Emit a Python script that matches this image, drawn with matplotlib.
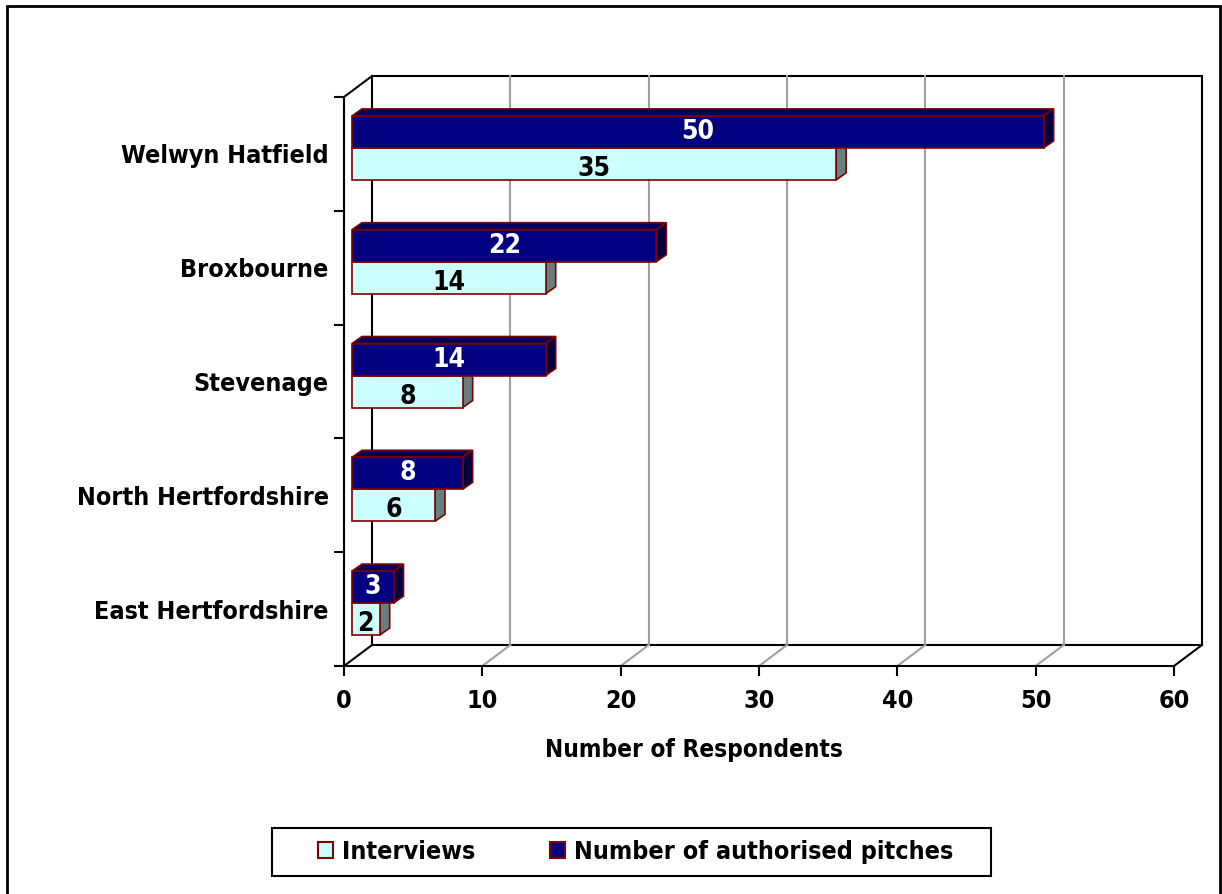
"""Respondents by district: interviews vs authorised pitches, drawn as 3D-style bars"""

import numpy as np
import matplotlib
matplotlib.use("Agg")
import matplotlib.pyplot as plt
from matplotlib.patches import Polygon, Rectangle, Patch

# data, bottom category first
districts = ["East Hertfordshire", "North Hertfordshire", "Stevenage", "Broxbourne", "Welwyn Hatfield"]
interviews = [2, 6, 8, 14, 35]
pitches = [3, 8, 14, 22, 50]
x_ticks = [0, 10, 20, 30, 40, 50, 60]

NAVY, NAVY_TOP, NAVY_SIDE = "#000080", "#00005c", "#000040"
CYAN, CYAN_TOP, CYAN_SIDE = "#ccffff", "#99bfbf", "#668080"
EDGE = "#800000"
GRID = "#a0a0a0"

plt.rcParams["font.family"] = "DejaVu Sans"
plt.rcParams["font.weight"] = "bold"
plt.rcParams["font.stretch"] = "condensed"

W, H = 1222, 894
fig = plt.figure(figsize=(W / 100, H / 100), dpi=100)
ax = fig.add_axes([344 / W, 1 - 666 / H, 830 / W, 569 / H])
ax.set_xlim(0, 60)
ax.set_ylim(-0.5, 4.5)


def depth(px, py):
  """Convert a pixel offset into data units (used for the fake perspective)"""
  x0, y0 = ax.transData.transform((0, 0))
  x1, y1 = ax.transData.transform((1, 1))
  return px / (x1 - x0), py / (y1 - y0)


wx, wy = depth(28, 21)   # back wall offset
fx, fy = depth(8, 6)     # bar front face offset
bx, by = depth(10, 7)    # bar depth
bar_h = depth(0, 32)[1]  # bar thickness

# back wall + gridlines
ax.add_patch(Rectangle((wx, -0.5 + wy), 60, 5, facecolor="white", edgecolor="black",
                       lw=1.5, clip_on=False, zorder=1))
for t in x_ticks[1:-1]:
  ax.plot([t + wx, t + wx], [-0.5 + wy, 4.5 + wy], color=GRID, lw=1.5, clip_on=False, zorder=1.5)

# floor lines
for t in x_ticks:
  col = "black" if t in (x_ticks[0], x_ticks[-1]) else GRID
  ax.plot([t, t + wx], [-0.5, -0.5 + wy], color=col, lw=1.5, clip_on=False, zorder=1.5)

# left wall top edge
ax.plot([0, wx], [4.5, 4.5 + wy], color="black", lw=1.5, clip_on=False, zorder=1.5)


def draw_bars(values, bottoms, face, top, side, z, txt_col, txt_dy):
  for v, b in zip(values, bottoms):
    y0, y1 = b + fy, b + bar_h + fy
    x1 = v + fx
    ax.add_patch(Polygon([(fx, y1), (x1, y1), (x1 + bx, y1 + by), (fx + bx, y1 + by)],
                         closed=True, fc=top, ec=EDGE, lw=1.2, clip_on=False, zorder=z))
    ax.add_patch(Polygon([(x1, y0), (x1 + bx, y0 + by), (x1 + bx, y1 + by), (x1, y1)],
                         closed=True, fc=side, ec=EDGE, lw=1.2, clip_on=False, zorder=z))
  ax.barh(np.array(bottoms) + fy, values, height=bar_h, left=fx, align="edge",
          color=face, edgecolor=EDGE, lw=1.2, clip_on=False, zorder=z + 0.1)
  for v, b in zip(values, bottoms):
    ax.text(v / 2 + fx, b + bar_h / 2 + fy + txt_dy, str(v), color=txt_col, fontsize=19,
            ha="center", va="center", zorder=z + 0.2)


pos = np.arange(len(districts))
draw_bars(interviews, pos - bar_h, CYAN, CYAN_TOP, CYAN_SIDE, 3, "black", depth(0, -5)[1])
draw_bars(pitches, pos, NAVY, NAVY_TOP, NAVY_SIDE, 4, "white", 0)

# axes styling
for s in ("top", "right"):
  ax.spines[s].set_visible(False)
for s in ("left", "bottom"):
  ax.spines[s].set_linewidth(1.5)
  ax.spines[s].set_zorder(2)

ax.set_xticks(x_ticks)
ax.tick_params(axis="x", length=7.2, width=1.5, pad=9, labelsize=18)
ax.set_yticks(np.arange(-0.5, 5), labels=[""] * 6)
ax.set_yticks(pos, labels=districts, minor=True)
ax.tick_params(axis="y", which="major", length=7.2, width=1.5)
ax.tick_params(axis="y", which="minor", length=0, pad=11, labelsize=18)

ax.text((694 - 344) / 830, -(757 - 666) / 569, "Number of Respondents", transform=ax.transAxes,
        fontsize=17.5, ha="center", va="baseline")

# legend, with its box drawn separately
handles = [Patch(facecolor=CYAN, edgecolor=EDGE, lw=1.5, label="Interviews"),
           Patch(facecolor=NAVY, edgecolor=EDGE, lw=1.5, label="Number of authorised pitches")]
fig.legend(handles=handles, loc="center", bbox_to_anchor=(635.5 / W, 1 - 852 / H), ncol=2,
           frameon=False, fontsize=18, handlelength=0.6, handleheight=0.6,
           handletextpad=0.35, columnspacing=3.0)
fig.add_artist(Rectangle((272 / W, 1 - 876 / H), 719 / W, 48 / H, transform=fig.transFigure,
                         fill=False, edgecolor="black", lw=1.5))

# outer chart border
fig.add_artist(Rectangle((7 / W, -0.05), 1213 / W, 1.05 - 6 / H, transform=fig.transFigure,
                         fill=False, edgecolor="black", lw=2))

fig.savefig("out.png", dpi=100)
